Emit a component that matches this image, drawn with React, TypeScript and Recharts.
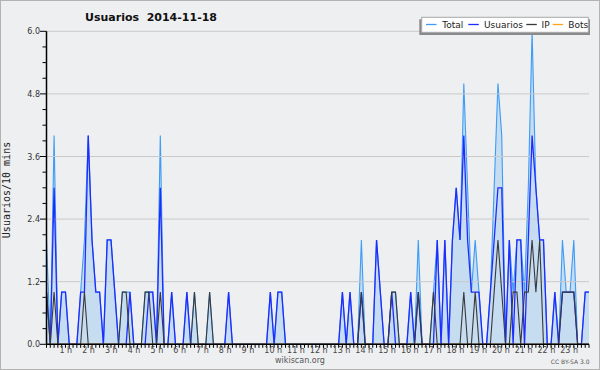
import React from 'react';
import { ComposedChart, Area, Line, XAxis, YAxis, ReferenceLine } from 'recharts';

// 10-minute slots for 2014-11-18 (144 slots)
const total = [
  2, 0, 4, 0, 1, 1, 0, 0, 0, 1,
  2, 4, 2, 1, 1, 0, 2, 2, 1, 0,
  1, 1, 1, 0, 0, 0, 1, 1, 1, 0,
  4, 0, 0, 1, 0, 0, 0, 1, 0, 1,
  0, 0, 0, 1, 0, 0, 0, 0, 1, 0,
  0, 0, 0, 0, 0, 0, 0, 0, 0, 1,
  0, 1, 1, 0, 0, 0, 0, 0, 0, 0,
  0, 0, 0, 0, 0, 0, 0, 0, 1, 0,
  1, 0, 0, 2, 0, 0, 0, 2, 1, 0,
  0, 1, 1, 0, 0, 0, 1, 0, 2, 0,
  0, 0, 1, 2, 0, 2, 0, 2, 3, 2,
  5, 3, 1, 2, 1, 0, 0, 1, 3, 5,
  4, 0, 2, 1, 2, 2, 1, 3, 6, 3,
  2, 2, 0, 0, 1, 0, 2, 1, 1, 2,
  0, 0, 1, 1,
];

const usuarios = [
  1, 0, 3, 0, 1, 1, 0, 0, 0, 1,
  1, 4, 2, 1, 1, 0, 2, 2, 1, 0,
  0, 0, 1, 0, 0, 0, 0, 1, 1, 0,
  3, 0, 0, 1, 0, 0, 0, 1, 0, 0,
  0, 0, 0, 0, 0, 0, 0, 0, 1, 0,
  0, 0, 0, 0, 0, 0, 0, 0, 0, 1,
  0, 1, 1, 0, 0, 0, 0, 0, 0, 0,
  0, 0, 0, 0, 0, 0, 0, 0, 1, 0,
  1, 0, 0, 1, 0, 0, 0, 2, 1, 0,
  0, 1, 0, 0, 0, 0, 1, 0, 1, 0,
  0, 0, 0, 2, 0, 2, 0, 2, 3, 2,
  4, 2, 1, 1, 1, 0, 0, 1, 2, 3,
  3, 0, 2, 0, 2, 2, 0, 2, 4, 3,
  2, 2, 0, 0, 1, 0, 1, 1, 1, 1,
  0, 0, 1, 1,
];

const ip = [
  1, 0, 1, 0, 0, 0, 0, 0, 0, 0,
  1, 0, 0, 0, 0, 0, 0, 0, 0, 0,
  1, 1, 0, 0, 0, 0, 1, 1, 0, 0,
  1, 0, 0, 0, 0, 0, 0, 0, 0, 1,
  0, 0, 0, 1, 0, 0, 0, 0, 0, 0,
  0, 0, 0, 0, 0, 0, 0, 0, 0, 0,
  0, 0, 0, 0, 0, 0, 0, 0, 0, 0,
  0, 0, 0, 0, 0, 0, 0, 0, 0, 0,
  0, 0, 0, 1, 0, 0, 0, 0, 0, 0,
  0, 1, 1, 0, 0, 0, 0, 0, 1, 0,
  0, 0, 1, 0, 0, 0, 0, 0, 0, 0,
  1, 0, 0, 1, 0, 0, 0, 0, 1, 2,
  1, 0, 0, 1, 1, 0, 1, 1, 2, 1,
  2, 0, 0, 0, 0, 0, 1, 1, 1, 1,
  0, 0, 0, 0,
];

const bots = [
  0, 0, 0, 0, 0, 0, 0, 0, 0, 0,
  0, 0, 0, 0, 0, 0, 0, 0, 0, 0,
  0, 0, 0, 0, 0, 0, 0, 0, 0, 0,
  0, 0, 0, 0, 0, 0, 0, 0, 0, 0,
  0, 0, 0, 0, 0, 0, 0, 0, 0, 0,
  0, 0, 0, 0, 0, 0, 0, 0, 0, 0,
  0, 0, 0, 0, 0, 0, 0, 0, 0, 0,
  0, 0, 0, 0, 0, 0, 0, 0, 0, 0,
  0, 0, 0, 0, 0, 0, 0, 0, 0, 0,
  0, 0, 0, 0, 0, 0, 0, 0, 0, 0,
  0, 0, 0, 0, 0, 0, 0, 0, 0, 0,
  0, 0, 0, 0, 0, 0, 0, 0, 0, 0,
  0, 0, 0, 0, 0, 0, 0, 0, 0, 0,
  0, 0, 0, 0, 0, 0, 0, 0, 0, 0,
  0, 0, 0, 0,
];

const hourLabels = [
  '1 h', '2 h', '3 h', '4 h', '5 h', '6 h', '7 h', '8 h', '9 h', '10 h', '11 h', '12 h',
  '13 h', '14 h', '15 h', '16 h', '17 h', '18 h', '19 h', '20 h', '21 h', '22 h', '23 h',
];
const slotsPerHour = 6;

const yTicks = [0, 0.3, 0.6, 0.9, 1.2, 1.5, 1.8, 2.1, 2.4, 2.7, 3.0, 3.3, 3.6, 3.9, 4.2, 4.5, 4.8, 5.1, 5.4, 5.7, 6.0];
const yMajor = [0, 1.2, 2.4, 3.6, 4.8, 6.0];

const legendItems = [
  { name: 'Total', color: '#3d9cf5' },
  { name: 'Usuarios', color: '#1f2cff' },
  { name: 'IP', color: '#3a3a3a' },
  { name: 'Bots', color: '#ffa31a' },
];

const title = 'Usuarios  2014-11-18';
const yLabel = 'Usuarios/10 mins';

const data = total.map((t, i) => ({
  slot: i,
  total: t,
  usuarios: usuarios[i],
  ip: ip[i],
  bots: bots[i],
}));
const xTicks = data.map((d) => d.slot);

const FONT = 'DejaVu Sans, Verdana, sans-serif';

const XTick = (props: any) => {
  const { x, y, payload } = props;
  const v = payload.value as number;
  const isHour = v % slotsPerHour === 0 && v > 0;
  const label = isHour ? hourLabels[v / slotsPerHour - 1] : null;
  return (
    <g>
      <line x1={x} x2={x} y1={y} y2={y + 3.5} stroke="#000" strokeWidth={1} />
      {label && (
        <text x={x - 9.8} y={y + 8.3} fontSize={8} fill="#444" fontFamily={FONT} textAnchor="start">
          {label}
        </text>
      )}
    </g>
  );
};

const YTick = (props: any) => {
  const { x, y, payload } = props;
  const v = payload.value as number;
  const major = yMajor.some((m) => Math.abs(m - v) < 1e-6);
  return (
    <g>
      <line x1={x - (major ? 6.5 : 4)} x2={x} y1={y} y2={y} stroke="#000" strokeWidth={1} />
      {major && (
        <text x={x - 6.5} y={y} dy={3} fontSize={8} fill="#333" fontFamily={FONT} textAnchor="end">
          {v.toFixed(1)}
        </text>
      )}
    </g>
  );
};

export default function App() {
  return (
    <div
      style={{
        position: 'absolute',
        left: 0,
        top: 0,
        width: 600,
        height: 370,
        background: '#eeeff1',
        overflow: 'hidden',
      }}
    >
      <ComposedChart
        width={600}
        height={370}
        data={data}
        margin={{ top: 31.3, right: 11, bottom: 0, left: 0 }}
      >
        {yMajor
          .filter((m) => m > 0)
          .map((m) => (
            <ReferenceLine key={m} y={m} stroke="#c9c9c9" strokeWidth={1} />
          ))}
        <Area
          type="linear"
          dataKey="total"
          stroke="#3d9cf5"
          strokeWidth={1.1}
          fill="#c6dcf1"
          fillOpacity={1}
          dot={false}
          activeDot={false}
          isAnimationActive={false}
        />
        <Line
          type="linear"
          dataKey="usuarios"
          stroke="#1f2cff"
          strokeWidth={1.3}
          dot={false}
          activeDot={false}
          isAnimationActive={false}
        />
        <Line
          type="linear"
          dataKey="ip"
          stroke="#3a3a3a"
          strokeWidth={1.1}
          dot={false}
          activeDot={false}
          isAnimationActive={false}
        />
        <Line
          type="linear"
          dataKey="bots"
          stroke="#ffa31a"
          strokeWidth={1}
          dot={false}
          activeDot={false}
          isAnimationActive={false}
        />
        <XAxis
          dataKey="slot"
          type="number"
          domain={[0, 143]}
          ticks={xTicks}
          interval={0}
          height={25.7}
          tickSize={0}
          tickMargin={0}
          tickLine={false}
          axisLine={{ stroke: '#000', strokeWidth: 1.5 }}
          tick={<XTick />}
        />
        <YAxis
          type="number"
          domain={[0, 6]}
          ticks={yTicks}
          interval={0}
          width={46.5}
          tickSize={0}
          tickMargin={0}
          tickLine={false}
          axisLine={{ stroke: '#000', strokeWidth: 1.5 }}
          tick={<YTick />}
        />
      </ComposedChart>
      <svg
        width={600}
        height={370}
        style={{ position: 'absolute', left: 0, top: 0, pointerEvents: 'none' }}
      >
        <rect x={0.5} y={0.5} width={599} height={369} fill="none" stroke="#b3b3b3" strokeWidth={1} />
        <text
          x={151}
          y={20.5}
          fontSize={11}
          fontWeight="bold"
          fill="#111"
          fontFamily={FONT}
          textAnchor="middle"
          xmlSpace="preserve"
          style={{ whiteSpace: 'pre' }}
        >
          {title}
        </text>
        <text
          x={10}
          y={190}
          transform="rotate(-90 10 190)"
          fontSize={10}
          fill="#222"
          fontFamily="DejaVu Sans Mono, monospace"
          textAnchor="middle"
        >
          {yLabel}
        </text>
        <rect x={419.3} y={19.3} width={170.7} height={15.7} fill="#8a8a8a" />
        <rect x={421.7} y={17.3} width={166.6} height={15} fill="#ffffff" stroke="#a8a8a8" strokeWidth={1} />
        {legendItems.map((it, k) => {
          const xs = [426, 468.3, 526.3, 552.7];
          const tx = [442.3, 484, 541.5, 568.3];
          return (
            <g key={it.name}>
              <line x1={xs[k]} x2={xs[k] + 10.5} y1={24.5} y2={24.5} stroke={it.color} strokeWidth={1.3} />
              <text x={tx[k]} y={27.7} fontSize={9} fill="#222" fontFamily={FONT}>
                {it.name}
              </text>
            </g>
          );
        })}
        <text x={300} y={363} fontSize={8} fill="#555" fontFamily={FONT} textAnchor="middle">
          wikiscan.org
        </text>
        <text x={589.5} y={364} fontSize={6} fill="#555" fontFamily={FONT} textAnchor="end">
          CC BY-SA 3.0
        </text>
      </svg>
    </div>
  );
}
